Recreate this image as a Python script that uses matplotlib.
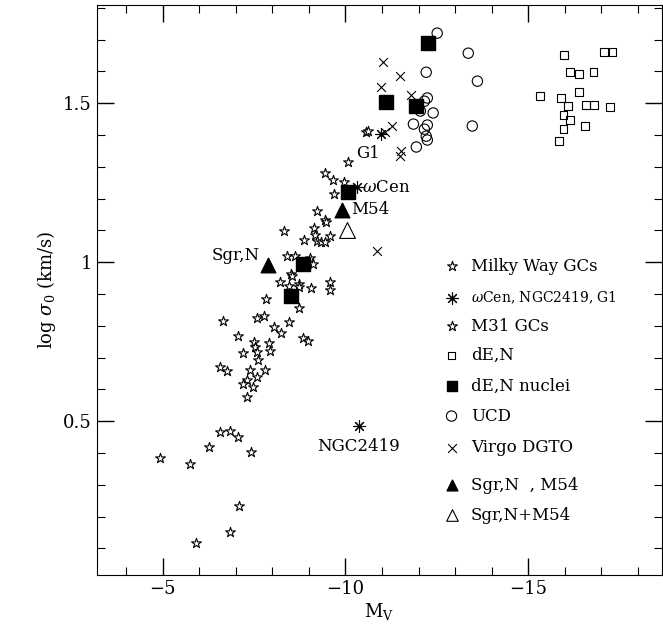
import matplotlib as mpl
mpl.use('Agg')
import matplotlib.pyplot as plt
from matplotlib.ticker import MultipleLocator, FixedLocator

plt.rcParams['font.family'] = 'DejaVu Serif'
plt.rcParams['mathtext.fontset'] = 'dejavuserif'

mw_mv = [-4.92, -5.74, -6.28, -6.58, -6.83, -7.05, -7.43, -7.08, -6.83, -5.90,
         -10.08, -9.45, -9.67, -9.97, -9.70, -9.21, -9.45, -9.48, -8.31, -9.15,
         -9.18, -9.59, -9.23, -9.34, -9.45, -8.88, -8.39, -8.61, -9.04, -9.10,
         -8.52, -8.55, -8.22, -8.47, -8.72, -8.74, -9.07, -9.59, -9.59, -7.84,
         -8.74, -6.64, -7.57, -7.76, -8.06, -8.25, -8.47, -7.05, -7.51, -7.54,
         -7.92, -7.95, -7.21, -7.57, -7.62, -8.85, -8.99, -6.56, -6.75, -7.40,
         -7.81, -7.57, -7.30, -7.21, -7.46, -7.30]
mw_sig = [0.384, 0.365, 0.418, 0.465, 0.469, 0.450, 0.403, 0.233, 0.151, 0.116,
          1.314, 1.280, 1.258, 1.252, 1.214, 1.160, 1.132, 1.126, 1.097, 1.107,
          1.085, 1.082, 1.066, 1.063, 1.063, 1.069, 1.019, 1.019, 1.013, 0.994,
          0.962, 0.956, 0.937, 0.925, 0.931, 0.921, 0.918, 0.937, 0.912, 0.884,
          0.855, 0.814, 0.824, 0.830, 0.796, 0.777, 0.811, 0.767, 0.748, 0.733,
          0.745, 0.720, 0.714, 0.717, 0.692, 0.761, 0.752, 0.670, 0.657, 0.660,
          0.660, 0.638, 0.629, 0.616, 0.607, 0.575]

m31_mv = [-10.55, -10.63]
m31_sig = [1.409, 1.412]

ast_mv = [-10.33, -10.96, -10.36]      # wCen, G1, NGC2419
ast_sig = [1.236, 1.403, 0.484]

nuc_mv = [-12.27, -11.12, -11.94, -10.08, -8.83, -8.52]
nuc_sig = [1.689, 1.503, 1.491, 1.220, 0.994, 0.893]

tri_mv = [-7.87, -9.92]                 # Sgr,N ; M54
tri_sig = [0.991, 1.164]
otri_mv = [-10.03]
otri_sig = [1.101]

ucd_mv = [-12.51, -13.36, -12.21, -13.61, -12.24, -12.16, -12.05, -12.40,
          -11.86, -12.24, -12.16, -12.21, -12.24, -11.94, -13.47]
ucd_sig = [1.720, 1.657, 1.597, 1.569, 1.516, 1.506, 1.475, 1.469,
           1.434, 1.431, 1.418, 1.396, 1.384, 1.362, 1.428]

den_mv = [-15.98, -17.08, -17.30, -16.15, -16.39, -16.78, -15.33, -16.39, -15.90,
          -16.09, -16.58, -16.80, -17.24, -15.96, -16.15, -15.96, -16.56, -15.85]
den_sig = [1.651, 1.660, 1.660, 1.597, 1.591, 1.597, 1.522, 1.535, 1.516,
           1.491, 1.494, 1.494, 1.487, 1.462, 1.447, 1.418, 1.428, 1.381]

dgto_mv = [-11.04, -11.50, -10.96, -11.80, -11.28, -11.09, -11.53, -11.50, -10.87]
dgto_sig = [1.629, 1.585, 1.550, 1.525, 1.428, 1.409, 1.349, 1.333, 1.035]

fig = plt.figure(figsize=(6.63, 6.44), dpi=100)
ax = fig.add_axes([0.146, 0.107, 0.852, 0.885])

star = dict(marker='*', s=55, facecolors='white', edgecolors='black', linewidths=0.8)
ax.scatter(mw_mv, mw_sig, **star)
ax.scatter(m31_mv, m31_sig, **star)
ax.scatter(ast_mv, ast_sig, marker=(8, 2, 0), s=70, c='black', linewidths=0.8)
ax.scatter(den_mv, den_sig, marker='s', s=30, facecolors='none', edgecolors='black', linewidths=0.8)
ax.scatter(ucd_mv, ucd_sig, marker='o', s=55, facecolors='none', edgecolors='black', linewidths=0.8)
ax.scatter(dgto_mv, dgto_sig, marker='x', s=40, c='black', linewidths=0.8)
ax.scatter(nuc_mv, nuc_sig, marker='s', s=110, c='black')
ax.scatter(tri_mv, tri_sig, marker='^', s=110, c='black')
ax.scatter(otri_mv, otri_sig, marker='^', s=130, facecolors='white', edgecolors='black', linewidths=0.8)

fs = 12
ax.text(-10.45, 1.236, r'$\omega$Cen', fontsize=fs, va='center')
ax.text(-10.95, 1.34, 'G1', fontsize=fs, ha='right', va='center')
ax.text(-10.15, 1.164, 'M54', fontsize=fs, va='center')
ax.text(-7.65, 1.02, 'Sgr,N', fontsize=fs, ha='right', va='center')
ax.text(-10.35, 0.42, 'NGC2419', fontsize=fs, ha='center', va='center')

# legend
lx, tx = 0.628, 0.662
rows = [
    (0.542, dict(marker='*', s=55, facecolors='white', edgecolors='black', linewidths=0.8), 'Milky Way GCs', fs),
    (0.487, dict(marker=(8, 2, 0), s=70, c='black', linewidths=0.8), r'$\omega$Cen, NGC2419, G1', 10),
    (0.437, dict(marker='*', s=55, facecolors='white', edgecolors='black', linewidths=0.8), 'M31 GCs', fs),
    (0.385, dict(marker='s', s=30, facecolors='none', edgecolors='black', linewidths=0.8), 'dE,N', fs),
    (0.332, dict(marker='s', s=60, c='black'), 'dE,N nuclei', fs),
    (0.279, dict(marker='o', s=55, facecolors='none', edgecolors='black', linewidths=0.8), 'UCD', fs),
    (0.223, dict(marker='x', s=40, c='black', linewidths=0.8), 'Virgo DGTO', fs),
    (0.158, dict(marker='^', s=60, c='black'), 'Sgr,N  , M54', fs),
    (0.105, dict(marker='^', s=70, facecolors='white', edgecolors='black', linewidths=0.8), 'Sgr,N+M54', fs),
]
for y, kw, lab, f in rows:
    ax.scatter([lx], [y], transform=ax.transAxes, clip_on=False, **kw)
    ax.text(tx, y, lab, transform=ax.transAxes, fontsize=f, va='center')

ax.set_xlim(-3.2, -18.65)
ax.set_ylim(0.016, 1.808)
ax.xaxis.set_major_locator(FixedLocator([-5, -10, -15]))
ax.set_xticklabels(['\u22125', '\u221210', '\u221215'])
ax.xaxis.set_minor_locator(MultipleLocator(1))
ax.yaxis.set_major_locator(FixedLocator([0.5, 1, 1.5]))
ax.set_yticklabels(['0.5', '1', '1.5'])
ax.yaxis.set_minor_locator(MultipleLocator(0.1))
ax.tick_params(which='both', direction='in', top=True, right=True, labelsize=13)
ax.tick_params(which='major', length=12, width=1)
ax.tick_params(which='minor', length=6, width=0.8)
ax.set_xlabel(r'M$_{\rm V}$', fontsize=13, labelpad=2)
ax.set_ylabel(r'log $\sigma_0$ (km/s)', fontsize=13)

plt.savefig('out.png', dpi=100)
plt.close('all')
